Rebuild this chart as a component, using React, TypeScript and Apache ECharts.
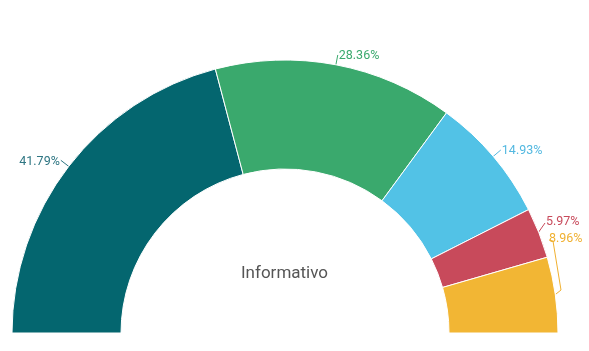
import React, { useEffect, useRef } from "react";
import * as echarts from "echarts";

const categories = ["A", "B", "C", "D", "E"];
const values = [28, 19, 10, 4, 6];
const colors = ["#04666f", "#3aa96d", "#52c2e6", "#c84a5b", "#f2b634"];
const labelColors = ["#2f7683", "#3aa96d", "#52b8e0", "#c84a5b", "#f0b030"];
const centerLabel = "Informativo";

export default function App() {
  const ref = useRef<HTMLDivElement>(null);
  useEffect(() => {
    document.body.style.margin = "0";
    const chart = echarts.init(ref.current!, null, { renderer: "svg" });
    const total = values.reduce((a, b) => a + b, 0);
    const data: any[] = values.map((v, i) => ({
      name: categories[i],
      value: v,
      itemStyle: { color: colors[i] },
      label: { color: labelColors[i] },
      labelLine: { lineStyle: { color: labelColors[i] } },
    }));
    data.push({
      name: "hidden",
      value: total,
      itemStyle: { color: "rgba(0,0,0,0)", borderWidth: 0 },
      label: { show: false },
      labelLine: { show: false },
      emphasis: { disabled: true },
      silent: true,
    });
    chart.setOption({
      animation: false,
      series: [
        {
          type: "pie",
          center: [285, 333],
          radius: [164, 273],
          startAngle: 180,
          clockwise: true,
          avoidLabelOverlap: false,
          itemStyle: { borderColor: "#fff", borderWidth: 1 },
          label: {
            show: true,
            position: "outside",
            fontFamily: "Roboto",
            fontSize: 12.5,
            overflow: "none",
            distanceToLabelLine: 1,
            formatter: (p: any) =>
              p.name === "hidden" ? "" : ((p.value / total) * 100).toFixed(2) + "%",
          },
          labelLine: { show: true, length: 10, length2: 0, lineStyle: { width: 1 } },
          labelLayout: (p: any) => {
            if (p.dataIndex === 3) {
              return {
                x: 546,
                y: 220,
                align: "left",
                verticalAlign: "middle",
                labelLinePoints: [
                  [538, 233],
                  [545, 223],
                ],
              };
            }
            if (p.dataIndex === 4) {
              return {
                x: 549,
                y: 237,
                align: "left",
                verticalAlign: "middle",
                labelLinePoints: [
                  [556, 294],
                  [561, 290],
                  [553, 241],
                  [549, 240],
                ],
              };
            }
            return {};
          },
          data,
        },
      ],
      graphic: [
        {
          type: "text",
          left: 241,
          top: 263,
          style: {
            text: centerLabel,
            fontFamily: "Roboto",
            fontSize: 17,
            fill: "#555",
          },
        },
      ],
    });
    return () => chart.dispose();
  }, []);
  return (
    <div
      ref={ref}
      style={{ position: "fixed", left: 0, top: 0, width: 589, height: 351 }}
    />
  );
}
